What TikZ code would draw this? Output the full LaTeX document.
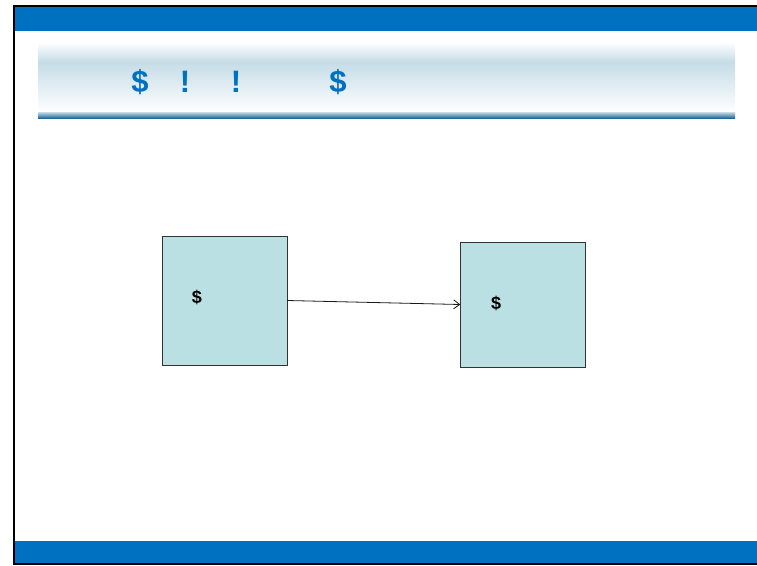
\documentclass[tikz,border=0pt]{standalone}
\usepackage{fontspec}
\setmainfont{Liberation Sans}
\usetikzlibrary{arrows.meta}
\definecolor{barblue}{HTML}{0070C0}
\definecolor{boxfill}{HTML}{BAE0E3}
\definecolor{bandblue}{HTML}{C5DCE7}
\definecolor{lineblue}{HTML}{1F6A9C}
\begin{document}
\begin{tikzpicture}[x=1pt,y=-1pt,>={Straight Barb[length=6pt,width=9pt]}]
	\tikzstyle{box}=[rectangle,draw=black!80,fill=boxfill,minimum width=125pt,inner sep=0pt]
	\tikzstyle{edge}=[draw=black!90, line width=0.8pt]
	\tikzstyle{title}=[text=barblue,font=\bfseries\fontsize{31}{31}\selectfont,inner sep=0pt]
	\tikzstyle{sign}=[font=\bfseries\fontsize{18}{18}\selectfont,inner sep=0pt]

	\useasboundingbox (0,0) rectangle (757,565);
	\fill[white] (0,0) rectangle (757,565);
	% frame and bars
	\fill[barblue] (15,7) rectangle (757,31);
	\fill[barblue] (15,541) rectangle (757,563);
	\draw[black,line width=1.5pt] (757,6) -- (14,6) -- (14,564) -- (757,564);
	% title band
	\fill[top color=white,bottom color=bandblue] (38,42) rectangle (735,62);
	\fill[top color=bandblue,bottom color=white] (38,62) rectangle (735,112);
	\fill[top color=bandblue,bottom color=lineblue] (38,112) rectangle (735,118);

	\node [title] (t1) at (140,82) {\$};
	\node [title] (t2) at (185,82) {!};
	\node [title] (t3) at (236,82) {!};
	\node [title] (t4) at (338,82) {\$};

	\node [box,minimum height=129pt] (src) at (224.5,300.5) {};
	\node [box,minimum height=125pt] (dst) at (523,304.5) {};
	\node [sign] (m1) at (197,297) {\$};
	\node [sign] (m2) at (496,303) {\$};

	\path[edge,->] (src.east) -- (dst.west);

\end{tikzpicture}
\end{document}
